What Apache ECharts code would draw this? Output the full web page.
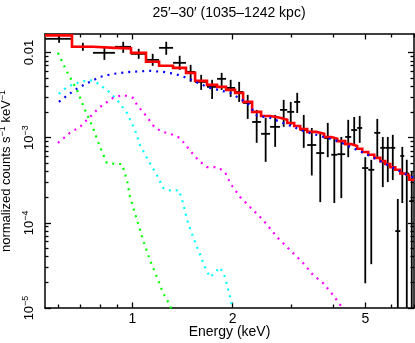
<!DOCTYPE html>
<html>
<head>
<meta charset="utf-8">
<script src="https://cdn.jsdelivr.net/npm/echarts@6/dist/echarts.min.js"></script>
<style>
html, body { margin: 0; padding: 0; background: #fff; }
#main { width: 415px; height: 343px; }
</style>
</head>
<body>
<div id="main"></div>
<script>
// bin edges (keV)
var edges = [0.547, 0.659, 0.762, 0.887, 0.991, 1.099, 1.203, 1.325, 1.449, 1.543,
  1.675, 1.796, 1.911, 2.034, 2.150, 2.288, 2.434, 2.590, 2.775, 2.915,
  3.059, 3.189, 3.347, 3.562, 3.764, 3.952, 4.121, 4.352, 4.536, 4.727,
  4.895, 5.103, 5.319, 5.545, 5.740, 5.941, 6.151, 6.367, 6.545, 6.774, 7.01];
// data (normalized counts s^-1 keV^-1) with lower / upper error bounds
var counts = [0.01449, 0.01167, 0.00992, 0.01167, 0.00965, 0.00820, 0.01135, 0.00757, 0.00593, 0.00452,
  0.00395, 0.00491, 0.00384, 0.00345, 0.00256, 0.00153, 0.00111, 0.00134, 0.00212, 0.00201,
  0.00263, 0.00123, 0.00082, 0.00066, 0.00099, 0.00063, 0.00064, 0.00102, 0.00123, 0.00130,
  0.00044, 0.00042, 0.00114, 0.00076, 0.00076, 0.00076, 0.00008, 0.00061, 0.00038, 0.00018];
var lower = [0.01300, 0.01047, 0.00820, 0.00992, 0.00843, 0.00698, 0.00940, 0.00626, 0.00452, 0.00364,
  0.00285, 0.00364, 0.00301, 0.00263, 0.00166, 0.00087, 0.00052, 0.00078, 0.00134, 0.00141,
  0.00195, 0.00076, 0.00036, 0.000175, 0.00059, 0.000171, 0.000195, 0.00059, 0.00082, 0.00087,
  0.0000195, 0.0000327, 0.00059, 0.000263, 0.000301, 0.000318, 0, 0.000171, 0, 0];
var upper = [0.01614, 0.01300, 0.01167, 0.01337, 0.01105, 0.00965, 0.01337, 0.00915, 0.00717, 0.00547,
  0.00478, 0.00577, 0.00478, 0.00452, 0.00318, 0.00212, 0.00171, 0.00185, 0.00278, 0.00263,
  0.00336, 0.00185, 0.00130, 0.00114, 0.00149, 0.00102, 0.00102, 0.00162, 0.00175, 0.00180,
  0.00059, 0.00055, 0.00166, 0.00102, 0.00102, 0.00108, 0.00019, 0.00078, 0.00055, 0.00040];
// total model per bin
var model = [0.0159, 0.01167, 0.01135, 0.0112, 0.0099, 0.00778, 0.00698, 0.00661, 0.00577, 0.00465,
  0.00417, 0.00395, 0.00364, 0.00336, 0.00263, 0.00201, 0.00180, 0.00171, 0.00162, 0.00149,
  0.00137, 0.00126, 0.00117, 0.00111, 0.00102, 0.00097, 0.00091, 0.00084, 0.00080, 0.00074,
  0.00068, 0.00063, 0.00058, 0.00053, 0.00049, 0.00045, 0.00042, 0.00038, 0.00036, 0.00032];
// model components [keV, value]
var compBlue = [[0.602, 0.00263], [0.641, 0.00318], [0.687, 0.00384], [0.746, 0.00452], [0.800, 0.00518],
  [0.875, 0.00561], [0.984, 0.00593], [1.130, 0.00609], [1.237, 0.00593], [1.343, 0.00561], [1.459, 0.00504],
  [1.597, 0.00428], [1.711, 0.00384], [1.965, 0.00336], [2.211, 0.00256], [2.368, 0.00180], [2.590, 0.00171],
  [3.257, 0.00120], [4.121, 0.000915], [5.176, 0.000609], [6.500, 0.000384], [7.01, 0.000336]];
var compCyan = [[0.602, 0.00327], [0.637, 0.00395], [0.697, 0.00452], [0.746, 0.00478], [0.783, 0.00440],
  [0.839, 0.00364], [0.900, 0.00278], [0.964, 0.00195], [1.019, 0.00123], [1.054, 0.00082], [1.115, 0.000547],
  [1.194, 0.000345], [1.237, 0.000256], [1.316, 0.000236], [1.380, 0.000243], [1.419, 0.000171],
  [1.469, 0.0000991], [1.564, 0.0000518], [1.653, 0.0000301], [1.711, 0.0000230], [1.771, 0.0000263],
  [1.833, 0.0000301], [1.898, 0.0000230], [1.965, 0.0000134], [2.00, 0.0000095]];
var compGreen = [[0.598, 0.00992], [0.637, 0.00593], [0.682, 0.00364], [0.721, 0.00212], [0.762, 0.00130],
  [0.800, 0.000778], [0.839, 0.000504], [0.900, 0.000491], [0.931, 0.000491], [0.964, 0.000318],
  [0.984, 0.000201], [1.033, 0.000108], [1.077, 0.0000626], [1.130, 0.0000364], [1.186, 0.0000230],
  [1.237, 0.0000149], [1.298, 0.0000108], [1.31, 0.0000095]];
var compMagenta = [[0.598, 0.000866], [0.650, 0.00114], [0.697, 0.00134], [0.746, 0.00175], [0.800, 0.00230],
  [0.875, 0.00293], [0.938, 0.00318], [1.005, 0.00293], [1.033, 0.00243], [1.107, 0.00175], [1.170, 0.00130],
  [1.237, 0.00117], [1.325, 0.00108], [1.390, 0.000991], [1.469, 0.000757], [1.575, 0.000547],
  [1.675, 0.000452], [1.796, 0.000452], [1.898, 0.000395], [1.965, 0.000293], [2.106, 0.000201],
  [2.256, 0.000153], [2.468, 0.000108], [2.719, 0.0000679], [2.976, 0.0000478], [3.257, 0.0000336],
  [3.489, 0.0000243], [3.741, 0.0000195], [4.009, 0.0000141], [4.208, 0.0000108], [4.24, 0.0000095]];
// axes
var xRange = [0.547, 7.0];
var yRange = [1e-5, 0.0165];
var xMajor = [1, 2, 5];
var xMinor = [0.6, 0.7, 0.8, 0.9, 3, 4, 6, 7];
var yMajor = [1e-5, 1e-4, 1e-3, 1e-2];
var yLabels = ['10{s|−5}', '10{s|−4}', '10{s|−3}', '0.01'];

var lg = Math.log10;
var yMinor = [];
[-5, -4, -3].forEach(function (n) {
  for (var k = 2; k <= 9; k++) yMinor.push(lg(k * Math.pow(10, n)));
});

var FONT = '"Liberation Sans", Arial, Helvetica, sans-serif';

var crosses = counts.map(function (v, i) {
  var c = (edges[i] + edges[i + 1]) / 2;
  return [lg(c), lg(v), lg(edges[i]), lg(edges[i + 1]), lg(Math.max(lower[i], 1e-8)), lg(upper[i])];
});
var step = [];
model.forEach(function (m, i) {
  step.push([lg(edges[i]), lg(m)]);
  step.push([lg(edges[i + 1]), lg(m)]);
});
function toLog(arr) {
  return arr.map(function (p) { return [lg(p[0]), lg(p[1])]; });
}

function xAx(pos, ticks, len, show) {
  return {
    type: 'value', position: pos, min: lg(xRange[0]), max: lg(xRange[1]),
    axisLine: { show: show, onZero: false, lineStyle: { color: '#000', width: 1.5 } },
    axisTick: { show: true, inside: true, length: len, customValues: ticks, lineStyle: { color: '#000', width: 1.3 } },
    axisLabel: { show: false },
    splitLine: { show: false }
  };
}
function yAx(pos, ticks, len, show) {
  return {
    type: 'value', position: pos, min: lg(yRange[0]), max: lg(yRange[1]),
    axisLine: { show: show, onZero: false, lineStyle: { color: '#000', width: 1.5 } },
    axisTick: { show: true, inside: true, length: len, customValues: ticks, lineStyle: { color: '#000', width: 1.3 } },
    axisLabel: { show: false },
    splitLine: { show: false }
  };
}

var xMaj = xMajor.map(lg), xMin = xMinor.map(lg), yMaj = yMajor.map(lg);
var xAxes = [xAx('bottom', xMaj, 5.5, true), xAx('bottom', xMin, 3.5, false), xAx('top', xMaj, 5.5, true), xAx('top', xMin, 3.5, false)];
var yAxes = [yAx('left', yMaj, 6, true), yAx('left', yMinor, 3.5, false), yAx('right', yMaj, 6, true), yAx('right', yMinor, 3.5, false)];

xAxes[0].axisLabel = {
  show: true, customValues: xMaj, margin: 4, color: '#000', fontFamily: FONT, fontSize: 14,
  formatter: function (v) { return String(Math.round(Math.pow(10, v))); }
};
xAxes[0].name = 'Energy (keV)';
xAxes[0].nameLocation = 'middle';
xAxes[0].nameGap = 17;
xAxes[0].nameMoveOverlap = false;
xAxes[0].nameTextStyle = { color: '#000', fontFamily: FONT, fontSize: 14 };

yAxes[0].axisLabel = {
  show: true, customValues: yMaj, rotate: 90, margin: 8, color: '#000', fontFamily: FONT,
  formatter: function (v) { return yLabels[yMaj.indexOf(v)] || ''; },
  rich: {
    s: { fontSize: 9, lineHeight: 9, verticalAlign: 'top', fontFamily: FONT, color: '#000' }
  },
  fontSize: 13, lineHeight: 16
};
yAxes[0].name = 'normalized counts s{s|−1} keV{s|−1}';
yAxes[0].nameLocation = 'middle';
yAxes[0].nameRotate = 90;
yAxes[0].nameGap = 31;
yAxes[0].nameMoveOverlap = false;
yAxes[0].nameTextStyle = {
  color: '#000', fontFamily: FONT, fontSize: 13, lineHeight: 16,
  rich: { s: { fontSize: 9, lineHeight: 9, verticalAlign: 'top', fontFamily: FONT, color: '#000' } }
};

function dotted(data, color) {
  return {
    type: 'line', data: toLog(data), showSymbol: false, silent: true, clip: true,
    lineStyle: { color: color, width: 2.2, type: [2, 5], cap: 'butt' }, z: 4
  };
}

var chartDom = document.getElementById('main');
var myChart = echarts.init(chartDom, null, { renderer: 'canvas' });
var option = {
  animation: false,
  backgroundColor: '#fff',
  grid: { left: 45, top: 34, width: 369, height: 274, containLabel: false, outerBoundsMode: 'none' },
  graphic: [{
    type: 'text', x: 229, y: 13,
    style: { text: '25′–30′ (1035–1242 kpc)', fill: '#000', font: '14px ' + FONT, textAlign: 'center', textVerticalAlign: 'middle' }
  }],
  xAxis: xAxes,
  yAxis: yAxes,
  series: [
    {
      type: 'custom', data: crosses, clip: true, silent: true, z: 2,
      encode: { x: 0, y: 1 },
      renderItem: function (params, api) {
        var a = api.coord([api.value(2), api.value(1)]);
        var b = api.coord([api.value(3), api.value(1)]);
        var lo = api.coord([api.value(0), api.value(4)]);
        var hi = api.coord([api.value(0), api.value(5)]);
        var st = { stroke: '#000', lineWidth: 1.8 };
        return {
          type: 'group', children: [
            { type: 'line', shape: { x1: a[0], y1: a[1], x2: b[0], y2: b[1] }, style: st },
            { type: 'line', shape: { x1: lo[0], y1: lo[1], x2: hi[0], y2: hi[1] }, style: st }
          ]
        };
      }
    },
    {
      type: 'line', data: step, showSymbol: false, silent: true, clip: true, z: 3,
      lineStyle: { color: '#ff0000', width: 2.6, join: 'miter' }
    },
    dotted(compGreen, '#00ff00'),
    dotted(compCyan, '#00ffff'),
    dotted(compMagenta, '#ff00ff'),
    dotted(compBlue, '#0000ff')
  ]
};

option && myChart.setOption(option);
</script>
</body>
</html>
